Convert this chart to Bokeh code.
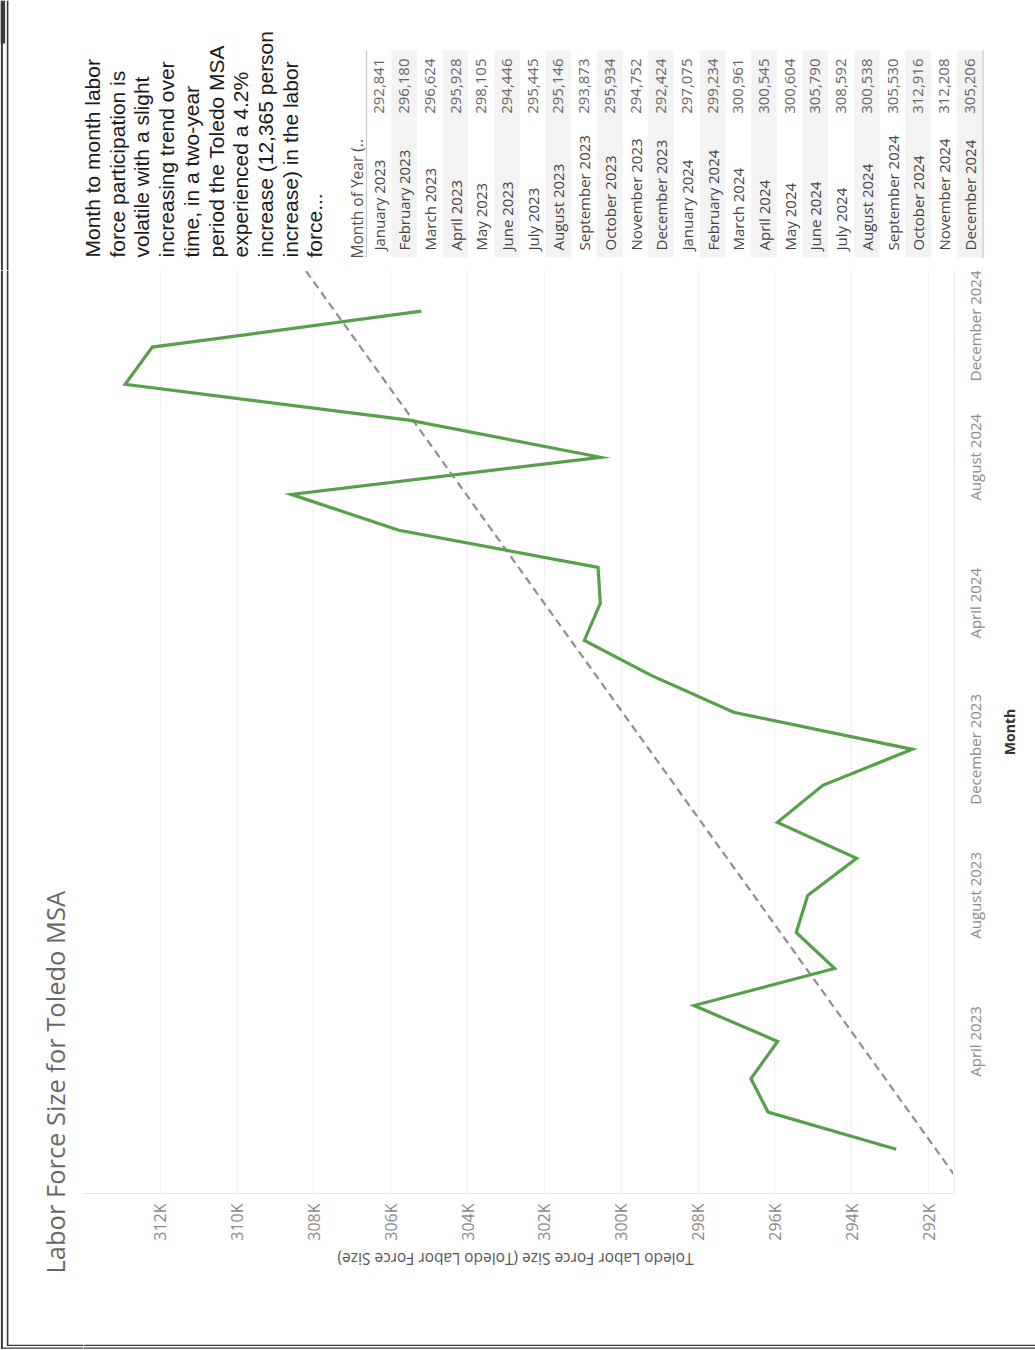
import numpy as np
import pandas as pd
from math import pi
from bokeh.plotting import figure
from bokeh.layouts import column, row
from bokeh.models import (Range1d, FixedTicker, CustomJSTickFormatter, LinearAxis,
                          ColumnDataSource, Grid)
from bokeh.core.properties import value
from bokeh.embed import file_html
from bokeh.resources import INLINE

# ---------------- data ----------------
months = ["January 2023", "February 2023", "March 2023", "April 2023", "May 2023", "June 2023",
          "July 2023", "August 2023", "September 2023", "October 2023", "November 2023",
          "December 2023", "January 2024", "February 2024", "March 2024", "April 2024",
          "May 2024", "June 2024", "July 2024", "August 2024", "September 2024",
          "October 2024", "November 2024", "December 2024"]
labor_force = [292841, 296180, 296624, 295928, 298105, 294446, 295445, 295146, 293873,
               295934, 294752, 292424, 297075, 299234, 300961, 300545, 300604, 305790,
               308592, 300538, 305530, 312916, 312208, 305206]
value_ticks = [292000, 294000, 296000, 298000, 300000, 302000, 304000, 306000, 308000,
               310000, 312000]
time_tick_months = ["April 2023", "August 2023", "December 2023", "April 2024",
                    "August 2024", "December 2024"]
table_header = "Month of Year (.."
title_text = "Labor Force Size for Toledo MSA"
value_axis_title = "Toledo Labor Force Size (Toledo Labor Force Size)"
time_axis_title = "Month"
note_lines = ["Month to month labor", "force participation is", "volatile with a slight",
              "increasing trend over", "time, in a two-year", "period the Toledo MSA",
              "experienced a 4.2%", "increase (12,365 person", "increase) in the labor",
              "force..."]

# axis domains (value axis runs right-to-left, time axis bottom-to-top)
value_high, value_low = 314000, 291350
time_start, time_end = "2022-11-25", "2025-01-04"
trend_start, trend_end = "2022-12-10", "2025-01-04"

# ---------------- layout (page pixels) ----------------
PAGE_W, PAGE_H = 1035, 1350
FR_L, FR_R, FR_T, FR_B = 83, 953, 270, 1193      # plot frame
AX_B = 51                                        # room for value tick labels
BOT_T = FR_B + AX_B                              # top of bottom strip

GREEN = "#56a049"
TXT_FONT = "Open Sans"
NOTE_FONT = "Liberation Sans"
BORDER = "#3a3a3a"


def strip(x0, x1, y0, y1):
    f = figure(width=int(x1 - x0), height=int(y1 - y0), x_range=Range1d(x0, x1),
               y_range=Range1d(-y1, -y0), output_backend="svg", toolbar_location=None,
               x_axis_type=None, y_axis_type=None, min_border=0, title=None)
    f.outline_line_color = None
    f.background_fill_color = "white"
    f.border_fill_color = "white"
    return f


def txt(f, xs, ys, texts, angle, align, font, size, color, style="normal"):
    f.text(x=list(xs), y=[-y for y in ys], text=list(texts), angle=angle,
           text_align=align, text_baseline="middle", text_font=value(font),
           text_font_size=size, text_color=color, text_font_style=style)


def boxes(f, lefts, rights, tops, bottoms, color):
    f.quad(left=list(lefts), right=list(rights), top=[-t for t in tops],
           bottom=[-b for b in bottoms], fill_color=color, line_color=None)


def frame_lines(f, x0, x1, y0, y1):
    # dark double frame of the dashboard (left edge and bottom edge)
    boxes(f, [0.3, 6.3], [2.4, 7.9], [y0, y0], [min(y1, 1348.3), min(y1, 1345.6)], BORDER)
    if y1 >= PAGE_H:
        boxes(f, [max(x0, 0.3), max(x0, 6.3)], [x1, x1], [1347.0, 1344.2], [1348.3, 1345.6],
              BORDER)


# ---------------- top: note + table ----------------
top = strip(0, PAGE_W, 0, FR_T)
frame_lines(top, 0, PAGE_W, 0, FR_T)
boxes(top, [0], [4.6], [0], [43], BORDER)

NOTE_X0, NOTE_PITCH, NOTE_Y = 92, 24.7, 257
txt(top, [NOTE_X0 + i * NOTE_PITCH for i in range(len(note_lines))],
    [NOTE_Y] * len(note_lines), note_lines, pi / 2, "left", NOTE_FONT, "21px", "#1a1a1a")

ROW_X0, ROW_PITCH = 378, 25.7
TB_TOP, TB_BOT = 50, 257
row_x = [ROW_X0 + i * ROW_PITCH for i in range(len(months))]
band_x = [x for i, x in enumerate(row_x) if i % 2 == 1]
boxes(top, [x - ROW_PITCH / 2 for x in band_x], [x + ROW_PITCH / 2 for x in band_x],
      [TB_TOP] * len(band_x), [TB_BOT] * len(band_x), "#f3f3f3")
last_edge = row_x[-1] + ROW_PITCH / 2
boxes(top, [365.4, last_edge], [366.6, last_edge + 1.2], [TB_TOP, TB_TOP],
      [TB_BOT, TB_BOT + 1], "#c8c8c8")
txt(top, [356], [258], [table_header], pi / 2, "left", TXT_FONT, "15.5px", "#555555")
txt(top, row_x, [250] * len(months), months, pi / 2, "left", TXT_FONT, "15px", "#444444")
txt(top, row_x, [58] * len(months), [f"{v:,}" for v in labor_force], pi / 2, "right",
    TXT_FONT, "15px", "#666666")

# ---------------- left strip: title ----------------
left = strip(0, FR_L, FR_T, PAGE_H)
frame_lines(left, 0, FR_L, FR_T, PAGE_H)
txt(left, [54], [1273], [title_text], pi / 2, "left", TXT_FONT, "25.5px", "#676767")

# ---------------- chart ----------------
dates = pd.to_datetime(months, format="%B %Y")
src = ColumnDataSource(dict(month=dates, value=labor_force))

epoch = pd.Timestamp("1970-01-01")
day_num = np.array([(d - epoch).days for d in dates], dtype=float)
coef = np.polyfit(day_num, np.array(labor_force, dtype=float), 1)
tr_dates = pd.to_datetime([trend_start, trend_end])
tr_days = np.array([(d - epoch).days for d in tr_dates], dtype=float)
trend_src = ColumnDataSource(dict(month=tr_dates, value=np.polyval(coef, tr_days)))

t0 = pd.Timestamp(time_start).to_pydatetime()
t1 = pd.Timestamp(time_end).to_pydatetime()
time_range = Range1d(t0, t1)

chart = figure(width=FR_R - FR_L, height=BOT_T - FR_T, output_backend="svg",
               toolbar_location=None, x_range=Range1d(value_high, value_low),
               y_range=time_range, x_axis_type=None, y_axis_type=None, title=None,
               min_border_left=0, min_border_right=0, min_border_top=0,
               min_border_bottom=AX_B)
chart.outline_line_color = None
chart.background_fill_color = "white"
chart.border_fill_color = "white"

xaxis = LinearAxis(ticker=FixedTicker(ticks=value_ticks),
                   formatter=CustomJSTickFormatter(code="return (tick/1000).toFixed(0) + 'K';"))
xaxis.major_label_orientation = pi / 2
xaxis.major_label_text_font = TXT_FONT
xaxis.major_label_text_font_size = "16px"
xaxis.major_label_text_color = "#8a8a8a"
xaxis.major_label_standoff = 10
xaxis.major_tick_line_color = None
xaxis.major_tick_out = 0
xaxis.major_tick_in = 0
xaxis.minor_tick_line_color = None
xaxis.axis_line_color = "#e4e4e4"
chart.add_layout(xaxis, "below")
chart.add_layout(Grid(dimension=0, ticker=xaxis.ticker, grid_line_color="#efefef"))

chart.line(x="value", y="month", source=trend_src, line_color="#8e8e8e", line_width=2.2,
           line_dash="8 5")
chart.line(x="value", y="month", source=src, line_color=GREEN, line_width=3.2,
           line_join="miter")

# ---------------- right strip: time axis labels (shares the chart's time scale) ------
right = figure(width=PAGE_W - FR_R, height=BOT_T - FR_T, output_backend="svg",
               toolbar_location=None, x_range=Range1d(FR_R, PAGE_W), y_range=time_range,
               x_axis_type=None, y_axis_type=None, title=None, min_border_left=0,
               min_border_right=0, min_border_top=0, min_border_bottom=AX_B)
right.outline_line_color = None
right.background_fill_color = "white"
right.border_fill_color = "white"
tick_dates = pd.to_datetime(time_tick_months, format="%B %Y")
mid_ticks = [d for d in tick_dates if (pd.Timestamp(t1) - d).days > 50]
end_ticks = [d for d in tick_dates if (pd.Timestamp(t1) - d).days <= 50]
LBL_X = 974
right.text(x=[LBL_X] * len(mid_ticks), y=mid_ticks,
           text=[d.strftime("%B %Y") for d in mid_ticks], angle=pi / 2, text_align="center",
           text_baseline="middle", text_font=value(TXT_FONT), text_font_size="15px",
           text_color="#8a8a8a")
right.text(x=[LBL_X] * len(end_ticks), y=[t1] * len(end_ticks),
           text=[d.strftime("%B %Y") for d in end_ticks], angle=pi / 2, text_align="right",
           text_baseline="middle", text_font=value(TXT_FONT), text_font_size="15px",
           text_color="#8a8a8a")
right.text(x=[1009], y=[pd.Timestamp(t0) + (pd.Timestamp(t1) - pd.Timestamp(t0)) / 2],
           text=[time_axis_title], angle=pi / 2, text_align="center", text_baseline="middle",
           text_font=value(TXT_FONT), text_font_size="14px", text_font_style="bold",
           text_color="#333333")
right.quad(left=[FR_R], right=[FR_R + 1.2], bottom=[t0], top=[t1], fill_color="#e4e4e4",
           line_color=None)

# ---------------- bottom strip: value axis title ----------------
bottom = strip(FR_L, PAGE_W, BOT_T, PAGE_H)
frame_lines(bottom, FR_L, PAGE_W, BOT_T, PAGE_H)
txt(bottom, [515], [1258], [value_axis_title], pi, "center", TXT_FONT, "15.5px", "#555555")

layout = column(top, row(left, column(row(chart, right), bottom)))
open("out.html", "w").write(file_html(layout, INLINE))
